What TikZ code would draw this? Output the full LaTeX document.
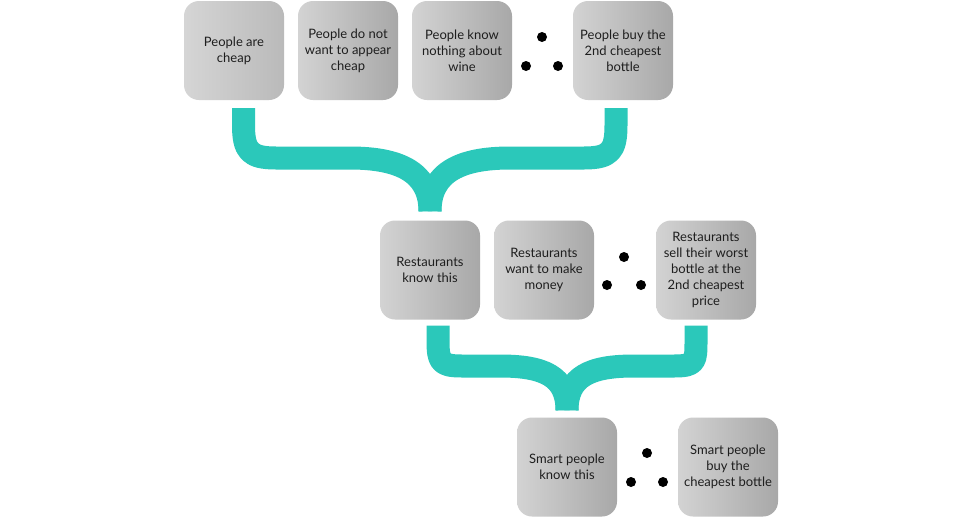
\documentclass[tikz,border=0pt]{standalone}
\usepackage{fontspec}
\setmainfont{Lato}
\definecolor{braceteal}{HTML}{2BC8BA}
\definecolor{boxlight}{HTML}{D3D3D3}
\definecolor{boxdark}{HTML}{A8A8A8}
\definecolor{txt}{HTML}{1E1E1E}
\tikzset{
  card/.style={rounded corners=15pt, minimum width=100pt, minimum height=99pt,
    left color=boxlight, right color=boxdark, draw=none, align=center,
    text=txt, inner sep=2pt, font=\fontsize{13}{16}\selectfont},
  cardflat/.style={card, left color=boxlight!95!white, right color=boxlight!88!black},
  dot/.style={circle, fill=black, minimum size=10pt, inner sep=0pt},
  bracestroke/.style={draw=braceteal, line width=23pt, line cap=butt, line join=round}
}
\begin{document}
\begin{tikzpicture}[x=1pt,y=-1pt]
\useasboundingbox (0,0) rectangle (960,517);
\fill[white] (0,0) rectangle (960,517);
% row 1
\node[cardflat] (b1) at (234,50.5) {People are\\cheap};
\node[card] (b2) at (348,50.5) {People do not\\want to appear\\cheap};
\node[card] (b3) at (462,50.5) {People know\\nothing about\\wine};
\node[dot] (d1a) at (542,37) {};
\node[dot] (d1b) at (526,66) {};
\node[dot] (d1c) at (558,66) {};
\node[card] (b4) at (623,50.5) {People buy the\\2nd cheapest\\bottle};
% row 2
\node[card] (b5) at (430,270) {Restaurants\\know this};
\node[card] (b6) at (544,270) {Restaurants\\want to make\\money};
\node[dot] (d2a) at (624,257) {};
\node[dot] (d2b) at (607,285) {};
\node[dot] (d2c) at (641,285) {};
\node[card] (b7) at (706,270) {Restaurants\\sell their worst\\bottle at the\\2nd cheapest\\price};
% row 3
\node[card] (b8) at (567,467) {Smart people\\know this};
\node[dot] (d3a) at (647,453) {};
\node[dot] (d3b) at (631,482) {};
\node[dot] (d3c) at (663,482) {};
\node[card] (b9) at (728,467) {Smart people\\buy the\\cheapest bottle};
% brace 1
\coordinate (u1l) at ([xshift=9.5pt,yshift=-8pt]b1.south);
\coordinate (u1r) at ([xshift=-7pt,yshift=-8pt]b4.south);
\coordinate (u1s) at ([yshift=9pt]b5.north);
\draw[bracestroke] (u1l) -- ++(0,17) .. controls +(0,26) and +(-26,0) .. (276,158)
  -- (350,158) .. controls +(48,0) and +(0,-40) .. (u1s);
\draw[bracestroke] (u1r) -- ++(0,17) .. controls +(0,26) and +(26,0) .. (584,158)
  -- (510,158) .. controls +(-48,0) and +(0,-40) .. (u1s);
% brace 2
\coordinate (u2l) at ([xshift=8pt,yshift=-6pt]b5.south);
\coordinate (u2r) at ([xshift=-10pt,yshift=-6pt]b7.south);
\coordinate (u2s) at ([yshift=7pt]b8.north);
\draw[bracestroke] (u2l) -- ++(0,14) .. controls +(0,22) and +(-22,0) .. (462,366)
  -- (500,366) .. controls +(44,0) and +(0,-34) .. (u2s);
\draw[bracestroke] (u2r) -- ++(0,14) .. controls +(0,22) and +(22,0) .. (674,366)
  -- (634,366) .. controls +(-44,0) and +(0,-34) .. (u2s);
\end{tikzpicture}
\end{document}
